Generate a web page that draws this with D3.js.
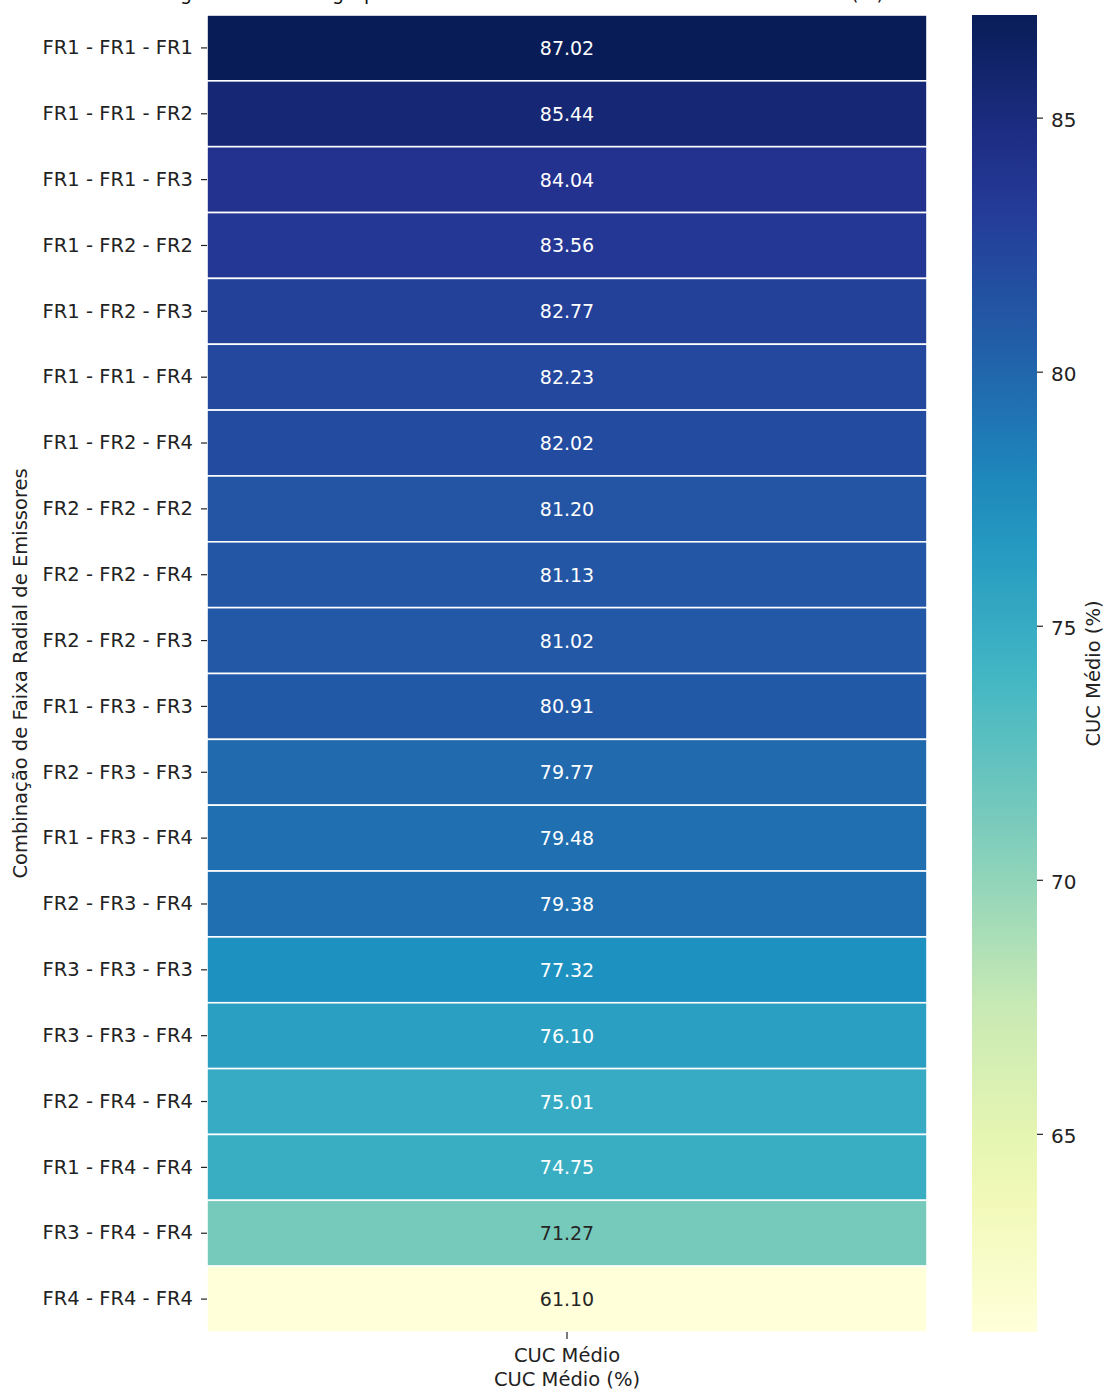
<!DOCTYPE html>
<html>
<head>
<meta charset="utf-8">
<script src="https://cdn.jsdelivr.net/npm/d3@7/dist/d3.min.js"></script>
<style>
  html, body { margin: 0; padding: 0; background: #fff; }
  svg { display: block; font-family: "DejaVu Sans", sans-serif; }
</style>
</head>
<body>
<svg id="chart" width="1104" height="1391"></svg>
<script>
// Emitter radial-band combinations, ranked by mean CUC (%)
const combinations = [
  "FR1 - FR1 - FR1", "FR1 - FR1 - FR2", "FR1 - FR1 - FR3", "FR1 - FR2 - FR2",
  "FR1 - FR2 - FR3", "FR1 - FR1 - FR4", "FR1 - FR2 - FR4", "FR2 - FR2 - FR2",
  "FR2 - FR2 - FR4", "FR2 - FR2 - FR3", "FR1 - FR3 - FR3", "FR2 - FR3 - FR3",
  "FR1 - FR3 - FR4", "FR2 - FR3 - FR4", "FR3 - FR3 - FR3", "FR3 - FR3 - FR4",
  "FR2 - FR4 - FR4", "FR1 - FR4 - FR4", "FR3 - FR4 - FR4", "FR4 - FR4 - FR4"
];
const cucMedio = [
  87.02, 85.44, 84.04, 83.56, 82.77, 82.23, 82.02, 81.20, 81.13, 81.02,
  80.91, 79.77, 79.48, 79.38, 77.32, 76.10, 75.01, 74.75, 71.27, 61.10
];
const columns = ["CUC Médio"];
const colorbarTicks = [65, 70, 75, 80, 85];

// YlGnBu (ColorBrewer, 9 classes), linearly interpolated
const ylgnbu = ["#ffffd9","#edf8b1","#c7e9b4","#7fcdbb","#41b6c4","#1d91c0","#225ea8","#253494","#081d58"];
const interp = d3.piecewise(d3.interpolateRgb, ylgnbu);

const svg = d3.select("#chart");
const plotLeft = 207, plotRight = 927, plotTop = 15, plotBottom = 1332;
const vmin = d3.min(cucMedio), vmax = d3.max(cucMedio);
const color = v => interp((v - vmin) / (vmax - vmin));

const x = d3.scaleBand().domain(columns).range([plotLeft, plotRight]);
const y = d3.scaleBand().domain(combinations).range([plotTop, plotBottom]);

// Title, placed high so that the figure crops it at the top edge
svg.append("text")
  .attr("x", 884).attr("y", -0.5)
  .attr("text-anchor", "end")
  .attr("font-size", 19).attr("fill", "#111")
  .text("Ranking Consolidado agrupado das Faixas Radiais de Emissores - CUC Médio (%)");

// Cells
const rows = combinations.map((c, i) => ({ c, v: cucMedio[i] }));
svg.append("g").selectAll("rect").data(rows).join("rect")
  .attr("x", x(columns[0]))
  .attr("y", d => y(d.c))
  .attr("width", x.bandwidth())
  .attr("height", y.bandwidth())
  .attr("fill", d => color(d.v))
  .attr("stroke", "#fff")
  .attr("stroke-width", 1.6);

// Annotations: light text on dark cells, dark text on light cells
svg.append("g").selectAll("text").data(rows).join("text")
  .attr("x", x(columns[0]) + x.bandwidth() / 2)
  .attr("y", d => y(d.c) + y.bandwidth() / 2)
  .attr("text-anchor", "middle")
  .attr("dominant-baseline", "central")
  .attr("font-size", 19)
  .attr("fill", d => d3.hsl(color(d.v)).l > 0.55 ? "#262626" : "#ffffff")
  .text(d => d.v.toFixed(2));

// Y axis
const yAxis = svg.append("g")
  .attr("transform", `translate(${plotLeft},0)`)
  .call(d3.axisLeft(y).tickSize(6).tickPadding(8));
yAxis.select(".domain").remove();
yAxis.selectAll("line").attr("stroke", "#222").attr("stroke-width", 1.2);
yAxis.selectAll("text").attr("font-size", 19.5).attr("fill", "#222")
  .attr("font-family", "DejaVu Sans, sans-serif");

// X axis
const xAxis = svg.append("g")
  .attr("transform", `translate(0,${plotBottom})`)
  .call(d3.axisBottom(x).tickSize(7).tickPadding(9));
xAxis.select(".domain").remove();
xAxis.selectAll("line").attr("stroke", "#222").attr("stroke-width", 1.2);
xAxis.selectAll("text").attr("font-size", 19.5).attr("fill", "#222")
  .attr("font-family", "DejaVu Sans, sans-serif");

// Axis titles
svg.append("text")
  .attr("x", (plotLeft + plotRight) / 2).attr("y", 1386)
  .attr("text-anchor", "middle").attr("font-size", 19.5).attr("fill", "#222")
  .text("CUC Médio (%)");
svg.append("text")
  .attr("transform", `translate(27,${(plotTop + plotBottom) / 2}) rotate(-90)`)
  .attr("text-anchor", "middle").attr("font-size", 19.5).attr("fill", "#222")
  .text("Combinação de Faixa Radial de Emissores");

// Colorbar
const cbLeft = 972, cbWidth = 65;
const cbScale = d3.scaleLinear().domain([vmin, vmax]).range([plotBottom, plotTop]);
const defs = svg.append("defs");
const grad = defs.append("linearGradient").attr("id", "cbgrad")
  .attr("x1", 0).attr("y1", 1).attr("x2", 0).attr("y2", 0);
d3.range(0, 1.0001, 0.05).forEach(t => {
  grad.append("stop").attr("offset", t).attr("stop-color", interp(t));
});
svg.append("rect")
  .attr("x", cbLeft).attr("y", plotTop)
  .attr("width", cbWidth).attr("height", plotBottom - plotTop)
  .attr("fill", "url(#cbgrad)");
const cbAxis = svg.append("g")
  .attr("transform", `translate(${cbLeft + cbWidth},0)`)
  .call(d3.axisRight(cbScale).tickValues(colorbarTicks).tickSize(6).tickPadding(8));
cbAxis.select(".domain").remove();
cbAxis.selectAll("line").attr("stroke", "#222").attr("stroke-width", 1.2);
cbAxis.selectAll("text").attr("font-size", 20).attr("fill", "#222")
  .attr("dy", "0.45em")
  .attr("font-family", "DejaVu Sans, sans-serif");
svg.append("text")
  .attr("transform", `translate(1100,${(plotTop + plotBottom) / 2}) rotate(-90)`)
  .attr("text-anchor", "middle").attr("font-size", 19.5).attr("fill", "#222")
  .text("CUC Médio (%)");
</script>
</body>
</html>
